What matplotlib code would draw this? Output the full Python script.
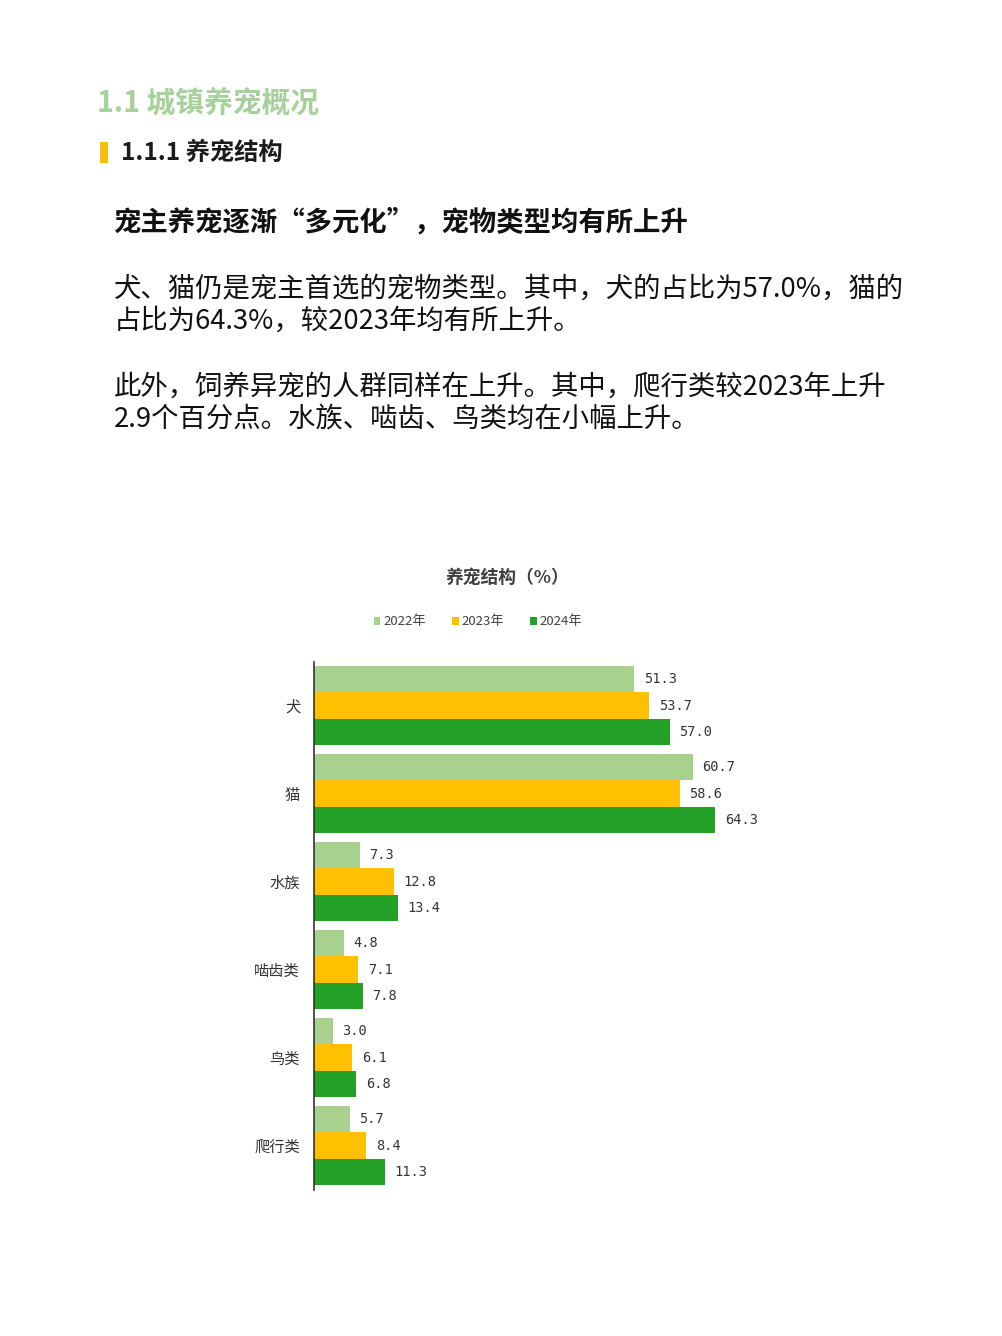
import matplotlib
matplotlib.use("Agg")
import matplotlib.pyplot as plt
from matplotlib.patches import Rectangle
import numpy as np

plt.rcParams['font.family'] = ['Noto Sans CJK SC', 'DejaVu Sans']

categories = ["犬", "猫", "水族", "啮齿类", "鸟类", "爬行类"]
series_names = ["2022年", "2023年", "2024年"]
v2022 = [51.3, 60.7, 7.3, 4.8, 3.0, 5.7]
v2023 = [53.7, 58.6, 12.8, 7.1, 6.1, 8.4]
v2024 = [57.0, 64.3, 13.4, 7.8, 6.8, 11.3]
colors = ["#A9D18E", "#FFC000", "#23A026"]

W, H = 1002, 1336
fig = plt.figure(figsize=(W / 100, H / 100), dpi=100)
fig.patch.set_facecolor("white")

def fx(px):
    return px / W

def fy(py):
    return 1 - py / H

# Header texts
fig.text(fx(97), fy(103), "1.1 城镇养宠概况", fontsize=20.7, fontweight="bold",
         color="#A6D19A", va="center", ha="left")
fig.add_artist(Rectangle((fx(100), fy(163)), fx(8), (163 - 142) / H,
                         transform=fig.transFigure, color="#F5BE10", lw=0))
fig.text(fx(121), fy(153), "1.1.1 养宠结构", fontsize=17.5, fontweight="bold",
         color="#1a1a1a", va="center", ha="left")
fig.text(fx(114), fy(223), "宠主养宠逐渐“多元化”，宠物类型均有所上升", fontsize=19.7,
         fontweight="bold", color="#111111", va="center", ha="left")
para = [
    (289, "犬、猫仍是宠主首选的宠物类型。其中，犬的占比为57.0%，猫的"),
    (321, "占比为64.3%，较2023年均有所上升。"),
    (387, "此外，饲养异宠的人群同样在上升。其中，爬行类较2023年上升"),
    (419, "2.9个百分点。水族、啮齿、鸟类均在小幅上升。"),
]
for py, t in para:
    fig.text(fx(114), fy(py), t, fontsize=19.7, color="#111111", va="center", ha="left")

# Chart title
fig.text(fx(507), fy(578), "养宠结构（%）", fontsize=12.8, fontweight="bold",
         color="#404040", va="center", ha="center")

# Axes
ax_left, ax_top, ax_bottom = 314, 661.5, 1189.5
ax = fig.add_axes([fx(ax_left), fy(ax_bottom), 624 / W, (ax_bottom - ax_top) / H])
ax.set_xlim(0, 100)
y = np.arange(len(categories))
h = 0.30
for i, (vals, c, name) in enumerate(zip([v2022, v2023, v2024], colors, series_names)):
    pos = y + (i - 1) * h
    bars = ax.barh(pos, vals, height=h, color=c, label=name, lw=0)
    for b, v in zip(bars, vals):
        ax.annotate(f"{v:.1f}", (b.get_width(), b.get_y() + b.get_height() / 2),
                    xytext=(7, 0), textcoords="offset points", va="center", ha="left",
                    fontsize=9.8, family="DejaVu Sans Mono", color="#333333")
ax.set_ylim(len(categories) - 0.5, -0.5)
ax.set_yticks(y)
ax.set_yticklabels(categories, fontsize=11, color="#333333")
ax.tick_params(axis="y", length=0, pad=10)
ax.set_xticks([])
for s in ["top", "right", "bottom"]:
    ax.spines[s].set_visible(False)
ax.spines["left"].set_color("#333333")
ax.spines["left"].set_linewidth(1.2)
ax.patch.set_visible(False)

leg = fig.legend(*ax.get_legend_handles_labels(), loc="center", ncol=3,
                 bbox_to_anchor=(fx(478), fy(622)), frameon=False, fontsize=9.5,
                 handlelength=0.5, handleheight=0.5, handletextpad=0.2,
                 columnspacing=2.0)
for t in leg.get_texts():
    t.set_color("#404040")

fig.savefig("out.png", dpi=100, facecolor="white")
